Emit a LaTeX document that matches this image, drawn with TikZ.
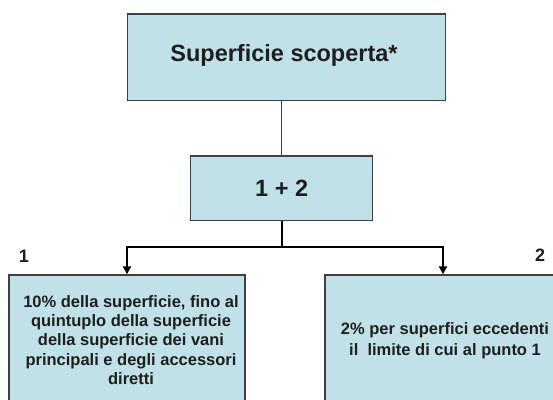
\documentclass[tikz,border=0pt]{standalone}
\usepackage{fontspec}
\setmainfont{Liberation Sans}
\usetikzlibrary{arrows.meta}
\definecolor{boxfill}{RGB}{191,225,231}
\definecolor{boxline}{RGB}{64,64,64}
\definecolor{txt}{RGB}{30,30,30}
\begin{document}
\begin{tikzpicture}[x=1pt,y=-1pt,
  box/.style={draw=boxline, fill=boxfill, line width=1.4pt, inner sep=0pt},
  thinconn/.style={draw=boxline, line width=1.2pt},
  thickconn/.style={draw=black, line width=2.4pt},
  arr/.style={-{Triangle[length=8pt,width=8pt]}},
  bigtxt/.style={font=\fontsize{23.5}{28}\selectfont\bfseries, text=txt},
  smalltxt/.style={font=\fontsize{16.5}{19.2}\selectfont\bfseries, text=txt, align=center},
  numlabel/.style={font=\fontsize{18}{20}\selectfont\bfseries, text=txt}
]
\useasboundingbox (0,0) rectangle (553,399);
\begin{scope}
\clip (0,0) rectangle (553,399);
\node[box, minimum width=318pt, minimum height=86.7pt] (top) at (286.7,57.3) {};
\node[bigtxt] (toptext) at (284,55) {Superficie scoperta*};
\node[box, minimum width=182pt, minimum height=64.7pt] (mid) at (281.7,188.3) {};
\node[bigtxt] (midtext) at (281.7,188.3) {1 + 2};
\node[box, minimum width=236pt, minimum height=130pt] (left) at (127,340) {};
\node[smalltxt] (lefttext) at (131,340) {10\% della superficie, fino al\\quintuplo della superficie\\della superficie dei vani\\principali e degli accessori\\diretti};
\node[box, minimum width=236pt, minimum height=130pt] (right) at (443,340) {};
\node[smalltxt, font=\fontsize{16.5}{20.7}\selectfont\bfseries] (righttext) at (445,340.5) {2\% per superfici eccedenti\\il\ \ limite di cui al punto 1};
\node[numlabel] (one) at (24,256) {1};
\node[numlabel] (two) at (540,255) {2};
\coordinate (j) at (281.7,247);
\draw[thinconn] (mid.north |- top.south) -- (mid.north);
\draw[thickconn] (mid.south) -- (j);
\draw[thickconn, arr] (j) -| (left.north);
\draw[thickconn, arr] (j) -| (right.north);
\end{scope}
\end{tikzpicture}
\end{document}
